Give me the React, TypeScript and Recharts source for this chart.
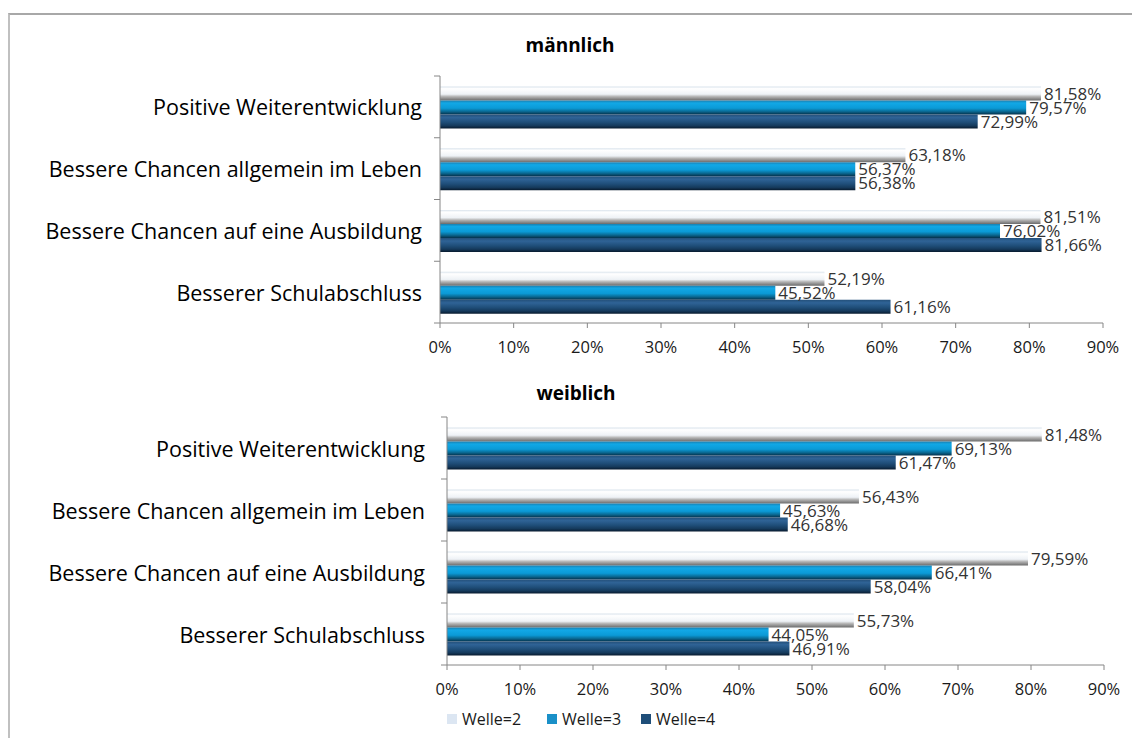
import React from "react";
import { BarChart, Bar, XAxis, YAxis, LabelList } from "recharts";

const categories = [
  "Positive Weiterentwicklung",
  "Bessere Chancen allgemein im Leben",
  "Bessere Chancen auf eine Ausbildung",
  "Besserer Schulabschluss",
];
const seriesNames = ["Welle=2", "Welle=3", "Welle=4"];
const maleW2 = [81.58, 63.18, 81.51, 52.19];
const maleW3 = [79.57, 56.37, 76.02, 45.52];
const maleW4 = [72.99, 56.38, 81.66, 61.16];
const femaleW2 = [81.48, 56.43, 79.59, 55.73];
const femaleW3 = [69.13, 45.63, 66.41, 44.05];
const femaleW4 = [61.47, 46.68, 58.04, 46.91];
const xTicks = [0, 10, 20, 30, 40, 50, 60, 70, 80, 90];
const legendColors = ["#dce6f2", "#1a90c8", "#1f4e79"];

const FONT = "'Open Sans', sans-serif";
const W = 1132;
const H = 370;

const fmt = (v: any) => Number(v).toFixed(2).replace(".", ",") + "%";

type PanelProps = {
  id: string;
  title: string;
  w2: number[];
  w3: number[];
  w4: number[];
  top: number;
  plotLeft: number;
  plotRight: number;
  plotTop: number;
  plotBottom: number;
  labelGap: number;
  titleX: number;
  titleY: number;
};

function Panel(p: PanelProps) {
  const data = categories.map((c, i) => ({ cat: c, w2: p.w2[i], w3: p.w3[i], w4: p.w4[i] }));
  const band = (p.plotBottom - p.plotTop) / categories.length;
  const CatTick = (props: any) => {
    const { y, payload, index } = props;
    const ax = p.plotLeft;
    return (
      <g>
        <text
          x={ax - p.labelGap}
          y={y}
          textAnchor="end"
          dominantBaseline="central"
          fontFamily={FONT}
          fontSize={21.5}
          fill="#000"
        >
          {payload.value}
        </text>
        <line x1={ax - 6} x2={ax} y1={y - band / 2} y2={y - band / 2} stroke="#868686" />
        {index === categories.length - 1 ? (
          <line x1={ax - 6} x2={ax} y1={y + band / 2} y2={y + band / 2} stroke="#868686" />
        ) : null}
      </g>
    );
  };
  const labelStyle = { fontFamily: FONT, fontSize: 17, fill: "#333333" };
  return (
    <div style={{ position: "absolute", left: 0, top: p.top, width: W, height: H }}>
      <BarChart
        width={W}
        height={H}
        data={data}
        layout="vertical"
        barCategoryGap="17%"
        barGap={0}
        margin={{ top: p.plotTop, right: W - p.plotRight, left: 0, bottom: H - p.plotBottom - 34 }}
      >
        <defs>
          <linearGradient id={p.id + "g2"} x1="0" y1="0" x2="0" y2="1">
            <stop offset="0%" stopColor="#d9e3ec" />
            <stop offset="15%" stopColor="#ffffff" />
            <stop offset="55%" stopColor="#eef2f6" />
            <stop offset="72%" stopColor="#b4b4b4" />
            <stop offset="100%" stopColor="#6a6a6a" />
          </linearGradient>
          <linearGradient id={p.id + "g3"} x1="0" y1="0" x2="0" y2="1">
            <stop offset="0%" stopColor="#1a7fb0" />
            <stop offset="18%" stopColor="#12a8e6" />
            <stop offset="55%" stopColor="#0b9ad6" />
            <stop offset="78%" stopColor="#0a6a94" />
            <stop offset="100%" stopColor="#05304a" />
          </linearGradient>
          <linearGradient id={p.id + "g4"} x1="0" y1="0" x2="0" y2="1">
            <stop offset="0%" stopColor="#24507a" />
            <stop offset="22%" stopColor="#2f6396" />
            <stop offset="55%" stopColor="#1f4e79" />
            <stop offset="80%" stopColor="#153a5c" />
            <stop offset="100%" stopColor="#081a2e" />
          </linearGradient>
        </defs>
        <XAxis
          type="number"
          domain={[0, 90]}
          ticks={xTicks}
          interval={0}
          height={34}
          tickFormatter={(v: any) => v + "%"}
          axisLine={{ stroke: "#868686" }}
          tickLine={{ stroke: "#868686" }}
          tickSize={5}
          tickMargin={13}
          tick={{ fontFamily: FONT, fontSize: 16.5, fill: "#1a1a1a" }}
        />
        <YAxis
          type="category"
          dataKey="cat"
          width={p.plotLeft}
          axisLine={{ stroke: "#868686" }}
          tickLine={false}
          interval={0}
          tick={<CatTick />}
        />
        <Bar dataKey="w2" name={seriesNames[0]} fill={`url(#${p.id}g2)`} isAnimationActive={false}>
          <LabelList dataKey="w2" position="right" offset={3} formatter={fmt} style={labelStyle} />
        </Bar>
        <Bar dataKey="w3" name={seriesNames[1]} fill={`url(#${p.id}g3)`} isAnimationActive={false}>
          <LabelList dataKey="w3" position="right" offset={3} formatter={fmt} style={labelStyle} />
        </Bar>
        <Bar dataKey="w4" name={seriesNames[2]} fill={`url(#${p.id}g4)`} isAnimationActive={false}>
          <LabelList dataKey="w4" position="right" offset={3} formatter={fmt} style={labelStyle} />
        </Bar>
      </BarChart>
      <div
        style={{
          position: "absolute",
          left: p.titleX - 100,
          width: 200,
          top: p.titleY,
          textAlign: "center",
          fontFamily: FONT,
          fontWeight: 700,
          fontSize: 19,
          lineHeight: "24px",
          color: "#000",
        }}
      >
        {p.title}
      </div>
    </div>
  );
}

export default function App() {
  const legendX = [447, 547, 641];
  return (
    <div
      style={{
        position: "absolute",
        left: 0,
        top: 0,
        width: W,
        height: 738,
        background: "#fff",
        overflow: "hidden",
        fontFamily: FONT,
      }}
    >
      <div
        style={{
          position: "absolute",
          left: 8,
          top: 13,
          width: 1200,
          height: 800,
          borderTop: "2px solid #a8a8a8",
          borderLeft: "2px solid #c0c0c0",
        }}
      />
      <Panel
        id="m"
        title="männlich"
        w2={maleW2}
        w3={maleW3}
        w4={maleW4}
        top={0}
        plotLeft={440}
        plotRight={1103}
        plotTop={76}
        plotBottom={323}
        labelGap={18}
        titleX={570}
        titleY={33}
      />
      <Panel
        id="f"
        title="weiblich"
        w2={femaleW2}
        w3={femaleW3}
        w4={femaleW4}
        top={340}
        plotLeft={447}
        plotRight={1104}
        plotTop={77}
        plotBottom={325}
        labelGap={22}
        titleX={576}
        titleY={41}
      />
      {seriesNames.map((n, i) => (
        <div
          key={n}
          style={{
            position: "absolute",
            left: legendX[i],
            top: 709,
            height: 20,
            display: "flex",
            alignItems: "center",
            fontFamily: FONT,
            fontSize: 16,
            color: "#1a1a1a",
            whiteSpace: "nowrap",
          }}
        >
          <span
            style={{
              display: "inline-block",
              width: 10,
              height: 10,
              background: legendColors[i],
              marginRight: 5,
            }}
          />
          {n}
        </div>
      ))}
    </div>
  );
}
